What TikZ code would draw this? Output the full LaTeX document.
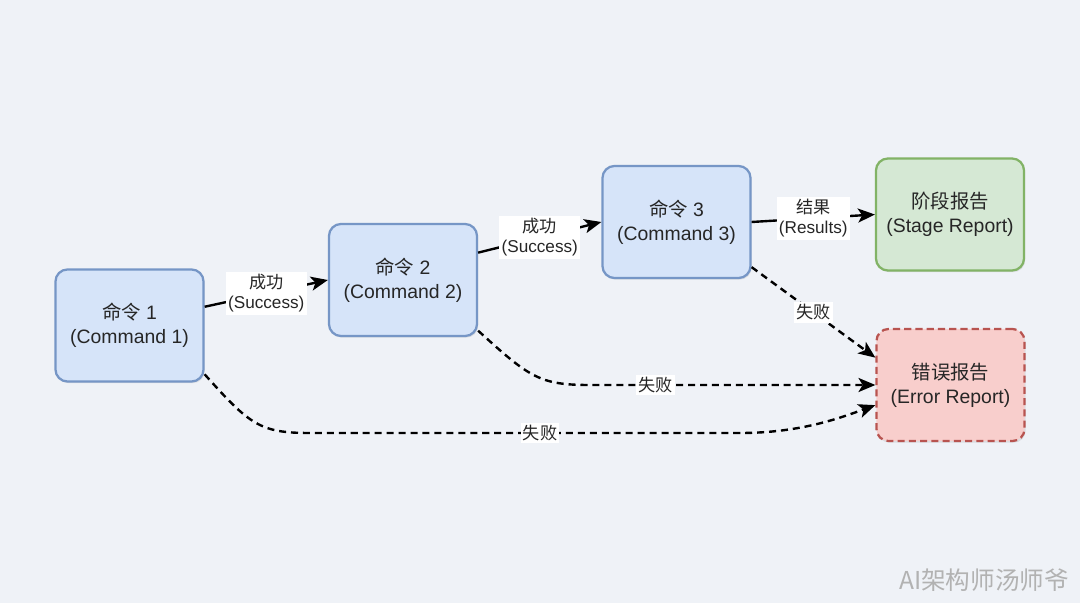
\documentclass[tikz,border=0pt]{standalone}
\usepackage{fontspec}
\setmainfont{Liberation Sans}
\newfontfamily\cjk{Noto Sans CJK SC}
\usetikzlibrary{arrows.meta, shadows}
\definecolor{bgpaper}{RGB}{239,242,247}
\definecolor{cmdfill}{RGB}{214,228,249}
\definecolor{cmdline}{RGB}{118,150,198}
\definecolor{stagefill}{RGB}{213,232,212}
\definecolor{stageline}{RGB}{130,179,102}
\definecolor{errfill}{RGB}{248,206,204}
\definecolor{errline}{RGB}{184,84,80}

\begin{document}
\begin{tikzpicture}[x=0.025cm, y=-0.025cm,
  cmdbase/.style={rounded corners=0.3cm, line width=1.6pt, minimum width=3.7cm, minimum height=2.8cm, align=center, text=black!85, font=\fontsize{13.8}{17}\selectfont, drop shadow={opacity=0.18, shadow xshift=0.8pt, shadow yshift=-1.2pt}},
  cmdbox/.style={cmdbase, draw=cmdline, fill=cmdfill},
  stagebox/.style={cmdbase, draw=stageline, fill=stagefill},
  errbox/.style={cmdbase, draw=errline, fill=errfill, dash pattern=on 5pt off 3pt},
  flow/.style={line width=1.7pt, -{Stealth[length=12pt, width=10pt, inset=3pt]}},
  fail/.style={flow, dash pattern=on 5pt off 3.5pt},
  tag/.style={fill=white, inner sep=1.6pt, align=center, text=black!85, font=\fontsize{12.2}{14.5}\selectfont}
]
  \fill[bgpaper] (0,0) rectangle (1080,603);

  % command chain
  \node[cmdbox] (cmd1) at (129.5,325.5) {{\cjk 命令} 1\\(Command 1)};
  \node[cmdbox] (cmd2) at (403,280) {{\cjk 命令} 2\\(Command 2)};
  \node[cmdbox] (cmd3) at (676.5,222) {{\cjk 命令} 3\\(Command 3)};
  \node[stagebox] (stage) at (950,214.5) {{\cjk 阶段报告}\\(Stage Report)};
  \node[errbox] (err) at (950.5,385) {{\cjk 错误报告}\\(Error Report)};

  \draw[flow] (cmd1.14) -- node[tag] {{\cjk 成功}\\(Success)} (cmd2.west);
  \draw[flow] (cmd2.20) -- node[tag] {{\cjk 成功}\\(Success)} (cmd3.west);
  \draw[flow] (cmd3.east) -- node[tag] {{\cjk 结果}\\(Results)} (stage.west);

  % failures
  \draw[fail] (cmd3.-31) -- node[tag] {\cjk 失败} (err.160);
  \draw[fail] (cmd2.-34) .. controls (530,378) and (540,385) .. (590,385)
    -- node[tag, pos=0.23] {\cjk 失败} (err.west);
  \draw[fail] (cmd1.-33) .. controls (250,425) and (260,433) .. (310,433)
    -- node[tag, pos=0.535] {\cjk 失败} (740,433)
    .. controls (800,433) and (840,418) .. (err.195);

  \node[font=\cjk\fontsize{17.5}{20}\selectfont, text=black!30] (mark) at (984,580) {AI架构师汤师爷};
\end{tikzpicture}
\end{document}
